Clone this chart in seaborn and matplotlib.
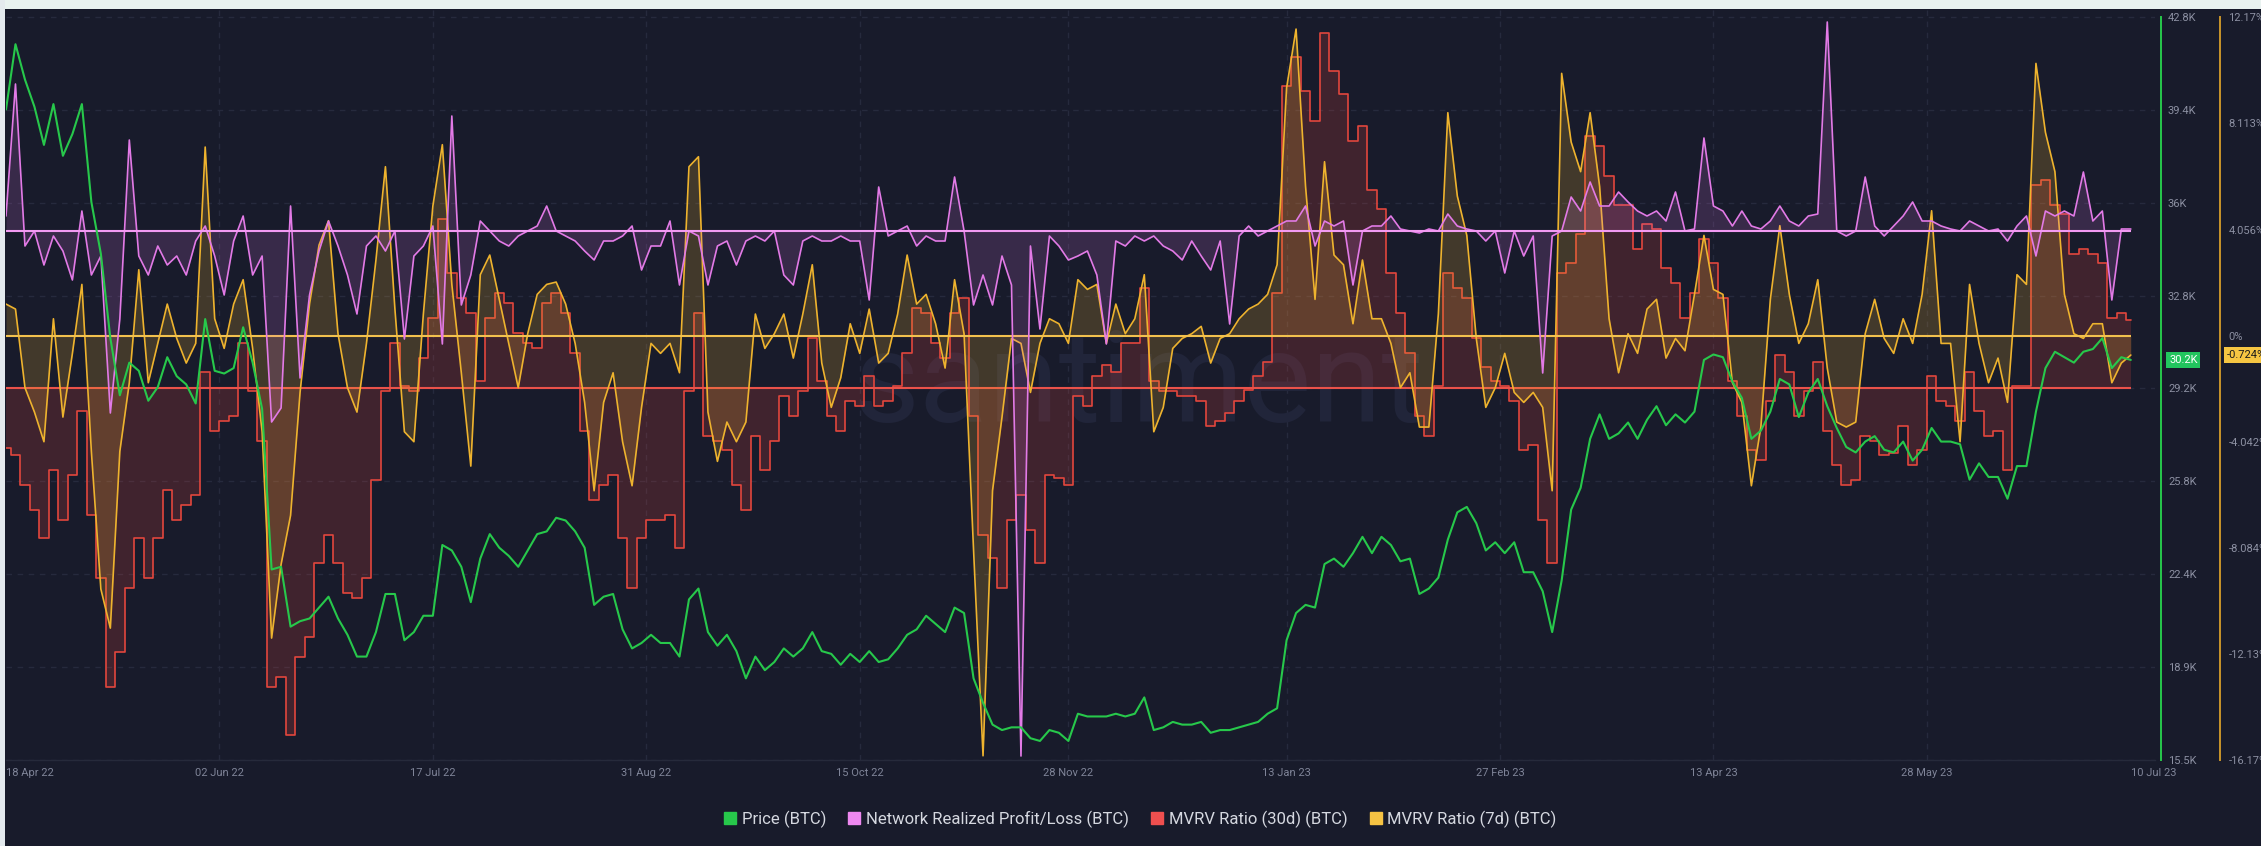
import numpy as np
import pandas as pd
import matplotlib
matplotlib.use("Agg")
import matplotlib.pyplot as plt
import matplotlib.transforms as mtransforms
from matplotlib.lines import Line2D
from matplotlib.patches import Rectangle
import seaborn as sns

# ---------------- data (every 2nd day, 18 Apr 2022 .. 10 Jul 2023) ----------------
price_k = [
    39.4, 41.8, 40.5, 39.5, 38.1, 39.6, 37.7, 38.5,
    39.6, 36.0, 34.1, 31.0, 28.9, 30.1, 29.8, 28.7,
    29.2, 30.3, 29.6, 29.3, 28.6, 31.7, 29.8, 29.7,
    29.9, 31.4, 30.1, 28.4, 22.5, 22.6, 20.4, 20.6,
    20.7, 21.1, 21.5, 20.7, 20.1, 19.3, 19.3, 20.2,
    21.6, 21.6, 19.9, 20.2, 20.8, 20.8, 23.4, 23.2,
    22.6, 21.3, 22.9, 23.8, 23.3, 23.0, 22.6, 23.2,
    23.8, 23.9, 24.4, 24.3, 23.9, 23.3, 21.2, 21.5,
    21.6, 20.3, 19.6, 19.8, 20.1, 19.8, 19.8, 19.3,
    21.4, 21.8, 20.2, 19.7, 20.1, 19.5, 18.5, 19.3,
    18.8, 19.1, 19.6, 19.3, 19.6, 20.2, 19.5, 19.4,
    19.0, 19.4, 19.1, 19.5, 19.1, 19.2, 19.6, 20.1,
    20.3, 20.8, 20.5, 20.2, 21.1, 20.9, 18.5, 17.6,
    16.8, 16.6, 16.7, 16.7, 16.3, 16.2, 16.6, 16.5,
    16.2, 17.2, 17.1, 17.1, 17.1, 17.2, 17.1, 17.2,
    17.8, 16.6, 16.7, 16.9, 16.8, 16.8, 16.9, 16.5,
    16.6, 16.6, 16.7, 16.8, 16.9, 17.2, 17.4, 19.9,
    20.9, 21.2, 21.1, 22.7, 22.9, 22.6, 23.1, 23.7,
    23.1, 23.7, 23.4, 22.8, 22.9, 21.6, 21.8, 22.2,
    23.6, 24.6, 24.8, 24.2, 23.2, 23.5, 23.1, 23.5,
    22.4, 22.4, 21.7, 20.2, 22.1, 24.7, 25.5, 27.3,
    28.2, 27.3, 27.5, 27.9, 27.3, 28.0, 28.5, 27.8,
    28.2, 27.9, 28.3, 30.2, 30.4, 30.3, 29.4, 28.8,
    27.3, 27.6, 28.3, 29.5, 29.3, 28.1, 29.0, 29.5,
    28.5, 27.7, 27.0, 26.8, 27.2, 27.4, 26.9, 26.8,
    27.2, 26.5, 26.9, 27.7, 27.2, 27.2, 27.1, 25.8,
    26.4, 25.9, 25.9, 25.1, 26.3, 26.3, 28.3, 29.9,
    30.5, 30.3, 30.1, 30.5, 30.6, 31.0, 29.9, 30.3,
    30.2,
]

npl = [
    0.15, 1.47, -0.15, 0.0, -0.34, -0.05, -0.20, -0.49,
    0.20, -0.44, -0.25, -1.82, -0.88, 0.91, -0.25, -0.44,
    -0.15, -0.34, -0.25, -0.44, -0.10, 0.05, -0.25, -0.64,
    -0.10, 0.15, -0.44, -0.25, -1.91, -1.77, 0.25, -1.47,
    -0.64, -0.20, 0.10, -0.15, -0.44, -0.83, -0.15, -0.05,
    -0.20, 0.0, -1.08, -0.25, -0.15, 0.05, -1.13, 1.15,
    -0.74, -0.44, 0.10, 0.0, -0.10, -0.15, -0.05, 0.0,
    0.05, 0.25, 0.0, -0.05, -0.10, -0.20, -0.29, -0.10,
    -0.10, -0.05, 0.05, -0.39, -0.15, -0.15, 0.10, -0.54,
    0.0, -0.05, -0.54, -0.15, -0.10, -0.34, -0.10, -0.05,
    -0.10, 0.0, -0.44, -0.54, -0.10, -0.05, -0.10, -0.10,
    -0.05, -0.10, -0.10, -0.69, 0.44, -0.05, 0.0, 0.05,
    -0.15, -0.05, -0.10, -0.10, 0.54, 0.0, -0.74, -0.44,
    -0.74, -0.25, -0.54, -5.25, -0.15, -0.98, -0.05, -0.15,
    -0.29, -0.25, -0.20, -0.44, -1.13, -0.10, -0.15, -0.05,
    -0.10, -0.05, -0.15, -0.20, -0.29, -0.10, -0.25, -0.39,
    -0.10, -0.93, -0.05, 0.05, -0.05, 0.0, 0.05, 0.10,
    0.10, 0.25, -0.15, 0.10, 0.05, 0.10, -0.54, 0.0,
    0.05, 0.05, 0.15, 0.02, 0.0, -0.02, 0.02, 0.0,
    0.17, 0.05, 0.02, 0.0, -0.10, 0.0, -0.42, 0.0,
    -0.25, -0.05, -1.42, -0.05, 0.0, 0.34, 0.20, 0.49,
    0.25, 0.25, 0.39, 0.29, 0.20, 0.15, 0.20, 0.10,
    0.39, 0.0, 0.02, 0.93, 0.25, 0.20, 0.05, 0.20,
    0.05, 0.02, 0.10, 0.25, 0.10, 0.05, 0.15, 0.17,
    2.09, 0.0, -0.05, 0.0, 0.54, 0.05, -0.05, 0.05,
    0.15, 0.29, 0.10, 0.10, 0.05, 0.02, 0.0, 0.10,
    0.05, 0.0, 0.02, -0.10, 0.05, 0.15, -0.25, 0.20,
    0.15, 0.20, 0.15, 0.59, 0.10, 0.20, -0.69, 0.02,
    0.02,
]

mvrv30 = [
    -4.8, -5.4, -7.8, -9.8, -12.1, -6.6, -10.6, -7.0,
    -1.8, -10.2, -15.3, -24.1, -21.3, -16.1, -12.1, -15.3,
    -12.1, -8.2, -10.6, -9.4, -8.6, 1.3, -3.4, -2.6,
    -2.2, 3.7, -0.2, -4.2, -24.1, -23.3, -28.0, -21.7,
    -20.1, -14.1, -11.8, -14.1, -16.5, -16.9, -15.3, -7.4,
    -0.2, 3.7, 0.2, -0.2, 2.5, 5.7, 13.7, 9.3,
    7.3, 6.1, 0.6, 5.7, 7.7, 6.9, 4.5, 3.7,
    3.3, 6.9, 7.7, 6.1, 2.9, -3.4, -9.0, -7.8,
    -7.0, -12.1, -16.1, -12.1, -10.6, -10.6, -10.2, -12.9,
    -0.2, 6.1, -3.8, -4.2, -5.0, -7.8, -9.8, -3.8,
    -6.6, -4.2, -0.6, -2.2, -0.2, 4.1, 0.6, -2.2,
    -3.4, -1.0, -1.4, 1.0, -1.4, -1.0, 0.2, 2.9,
    6.5, 6.1, 3.7, 2.5, 6.1, 7.3, -2.2, -11.8,
    -13.7, -16.1, -10.6, -8.6, -11.4, -14.1, -7.0, -7.2,
    -7.8, -0.6, -1.4, 1.0, 1.9, 1.3, 3.7, 3.7,
    8.1, 0.6, -0.2, -0.2, -0.6, -0.6, -1.0, -3.0,
    -2.6, -2.0, -1.0, -0.1, 1.0, 2.1, 7.7, 24.4,
    26.8, 24.0, 21.6, 28.7, 25.6, 23.8, 20.0, 21.2,
    16.0, 14.5, 9.3, 6.1, 2.9, -2.2, -3.8, 0.2,
    9.3, 8.1, 7.3, 4.1, 1.7, 0.6, 0.2, -1.0,
    -5.0, -4.6, -10.6, -14.1, 9.3, 10.1, 12.5, 20.4,
    19.6, 17.2, 14.8, 14.8, 11.3, 13.3, 12.9, 9.7,
    8.5, 5.7, 7.7, 12.1, 10.1, 7.3, 0.6, -2.2,
    -5.0, -5.8, -1.0, 2.7, 1.3, -2.2, -0.2, 2.1,
    -3.4, -6.2, -7.8, -7.4, -3.8, -4.2, -5.4, -5.2,
    -3.0, -6.2, -5.0, 1.0, -1.0, -1.4, -2.6, 1.3,
    -1.8, -3.8, -3.4, -6.6, 0.2, 0.2, 16.4, 16.8,
    14.8, 14.1, 10.9, 11.3, 10.9, 10.1, 5.7, 6.1,
    5.5,
]

mvrv7 = [
    1.22, 1.03, -1.97, -2.90, -4.03, 0.66, -3.09, -0.66,
    1.97, -4.40, -9.65, -11.14, -4.40, -1.78, 2.53, -1.78,
    -0.28, 1.22, -0.09, -1.03, -0.28, 7.21, 0.66, -0.47,
    1.22, 2.15, -0.47, -3.65, -11.52, -8.71, -6.84, -2.15,
    1.22, 3.47, 4.40, 0.09, -1.97, -2.90, -0.28, 2.90,
    6.46, 1.03, -3.65, -4.03, 0.84, 4.96, 7.30, 1.97,
    -1.40, -4.96, 2.34, 3.09, 1.40, -0.28, -1.97, 0.09,
    1.59, 1.97, 2.06, 1.22, -0.28, -2.53, -5.90, -2.53,
    -1.40, -4.03, -5.71, -2.72, -0.28, -0.66, -0.28, -1.40,
    6.46, 6.84, -2.90, -4.78, -3.28, -4.03, -3.28, 0.84,
    -0.47, 0.09, 0.84, -0.84, 0.84, 2.72, -1.03, -2.72,
    -1.59, 0.47, -0.66, 1.03, -1.03, -0.66, 0.84, 3.09,
    1.22, 1.59, 0.47, -1.22, 2.15, 0.09, -8.15, -16.01,
    -5.90, -3.09, -0.09, -0.28, -2.15, -0.28, 0.66, 0.47,
    -0.28, 2.15, 1.78, 1.97, -0.28, 1.22, 0.09, 0.66,
    2.34, -3.65, -2.72, -0.47, -0.09, 0.09, 0.37, -1.03,
    -0.09, 0.09, 0.66, 1.03, 1.22, 1.59, 2.72, 9.46,
    11.71, 5.71, 1.40, 6.65, 3.09, 2.72, 0.47, 2.90,
    0.66, 0.66, -0.28, -1.97, -1.40, -3.47, -3.47, 0.84,
    8.52, 5.34, 3.84, -0.09, -2.72, -1.97, -0.66, -2.15,
    -2.53, -2.15, -2.72, -5.90, 10.02, 7.40, 6.27, 8.52,
    5.71, 0.66, -1.40, 0.09, -0.66, 1.03, 1.40, -0.84,
    -0.09, -0.56, 1.59, 3.84, 1.78, 1.59, -1.78, -2.53,
    -5.71, -3.47, 1.40, 4.21, 1.59, -0.28, 0.47, 2.15,
    -1.22, -3.28, -3.47, -3.28, 0.09, 1.40, -0.09, -0.66,
    0.66, -0.28, 1.59, 4.78, -0.28, -0.28, -4.03, 1.97,
    -0.28, -1.78, -0.84, -2.53, 2.34, 1.97, 10.40, 7.77,
    6.27, 1.59, 0.09, -0.09, 0.47, 0.47, -1.78, -1.03,
    -0.724,
]

assert len(price_k) == len(npl) == len(mvrv30) == len(mvrv7) == 225

price_tick_labels = ["15.5K", "18.9K", "22.4K", "25.8K", "29.2K", "32.8K", "36K", "39.4K", "42.8K"]
mvrv_ticks = [-16.17, -12.13, -8.084, -4.042, 0, 4.056, 8.113, 12.17]
mvrv_tick_labels = ["-16.17%", "-12.13%", "-8.084%", "-4.042%", "0%", "4.056%", "8.113%", "12.17%"]
date_ticks = ["2022-04-18", "2022-06-02", "2022-07-17", "2022-08-31", "2022-10-15",
              "2022-11-28", "2023-01-13", "2023-02-27", "2023-04-13", "2023-05-28", "2023-07-10"]
date_tick_labels = ["18 Apr 22", "02 Jun 22", "17 Jul 22", "31 Aug 22", "15 Oct 22",
                    "28 Nov 22", "13 Jan 23", "27 Feb 23", "13 Apr 23", "28 May 23", "10 Jul 23"]
series_names = ["Price (BTC)", "Network Realized Profit/Loss (BTC)",
                "MVRV Ratio (30d) (BTC)", "MVRV Ratio (7d) (BTC)"]

dates = pd.date_range("2022-04-18", periods=len(price_k), freq="2D")
df = pd.DataFrame({"date": dates, "price": price_k, "npl": npl,
                   "mvrv30": mvrv30, "mvrv7": mvrv7})

# ---------------- style ----------------
BG = "#181b2b"
GREEN = "#27c84b"
PINK = "#e27ae6"
RED = "#e2463d"
AMBER = "#eeb32e"
GRID = "#262a3d"
TXT = "#7f8498"

sns.set_theme(style="dark", rc={"axes.facecolor": BG, "figure.facecolor": BG})
plt.rcParams["font.family"] = ["Roboto", "DejaVu Sans"]

W, H = 2261, 846
fig = plt.figure(figsize=(W / 100, H / 100), dpi=100, facecolor=BG)

L, R, T, B = 6, 2155, 10, 760
rect = [L / W, 1 - B / H, (R - L) / W, (B - T) / H]
ax30 = fig.add_axes(rect)
ax30.set_facecolor("none")
ax7 = ax30.twinx()
axn = ax30.twinx()
axp = ax30.twinx()

x0 = dates[0]
x1 = dates[0] + pd.Timedelta(days=453.1)

ylim_p = (15.5, 43.057)
ylim_7 = (-16.17, 12.437)
ylim_30 = (-30.0, 30.565)
ylim_n = (-5.29, 2.21)

# grid (drawn on the bottom axes)
for p in np.linspace(15.5, 42.8, 9):
    f = (p - ylim_p[0]) / (ylim_p[1] - ylim_p[0])
    ax30.plot([0, 1], [f, f], transform=ax30.transAxes, color=GRID, lw=1,
              dashes=(4, 4), zorder=0.5)
for d in pd.to_datetime(date_ticks[1:-1]):
    ax30.axvline(d, color=GRID, lw=1, dashes=(4, 4), zorder=0.5)

# watermark
ax30.text(1138 / W, 1 - 422 / H, "santiment", transform=fig.transFigure,
          ha="center", va="baseline", fontsize=92, color="#21253a", zorder=0.6)

# MVRV 30d
ax30.fill_between(df["date"], df["mvrv30"], 0, step="mid", color=RED, alpha=0.2, lw=0, zorder=1)
sns.lineplot(data=df, x="date", y="mvrv30", ax=ax30, color=RED, lw=1.2,
             drawstyle="steps-mid", legend=False, zorder=2)
ax30.hlines(0, dates[0], dates[-1], color="#ea524a", lw=1.5, zorder=2.5)

# MVRV 7d
ax7.fill_between(df["date"], df["mvrv7"], 0, color=AMBER, alpha=0.2, lw=0, zorder=1)
sns.lineplot(data=df, x="date", y="mvrv7", ax=ax7, color=AMBER, lw=1.2,
             legend=False, zorder=2)
ax7.hlines(0, dates[0], dates[-1], color="#f2c14e", lw=1.5, zorder=2.5)

# NPL
axn.fill_between(df["date"], df["npl"], 0, color=PINK, alpha=0.16, lw=0, zorder=1)
sns.lineplot(data=df, x="date", y="npl", ax=axn, color=PINK, lw=1.2, legend=False, zorder=2)
axn.hlines(0, dates[0], dates[-1], color="#f29af2", lw=1.5, zorder=2.5)

# price
sns.lineplot(data=df, x="date", y="price", ax=axp, color=GREEN, lw=1.5, legend=False, zorder=3)

for a, yl in ((ax30, ylim_30), (ax7, ylim_7), (axn, ylim_n), (axp, ylim_p)):
    a.set_xlim(x0, x1)
    a.set_ylim(*yl)
    a.set_xlabel("")
    a.set_ylabel("")
    a.grid(False)
    for s in a.spines.values():
        s.set_visible(False)

# bottom axis
ax30.spines["bottom"].set_visible(True)
ax30.spines["bottom"].set_color("#262a3b")
ax30.spines["bottom"].set_linewidth(1)
ax30.tick_params(axis="y", left=False, labelleft=False, right=False, labelright=False)
ax30.set_xticks(pd.to_datetime(date_ticks))
ax30.set_xticklabels(date_tick_labels)
ax30.tick_params(axis="x", length=0, pad=6, labelsize=8, labelcolor=TXT)
xl = ax30.get_xticklabels()
xl[0].set_ha("left")
xl[-1].set_ha("left")

axn.tick_params(axis="y", left=False, right=False, labelleft=False, labelright=False)

# price axis (green)
px = 72 / 100
axp.spines["right"].set_visible(True)
axp.spines["right"].set_position(("outward", 6 * px))
axp.spines["right"].set_bounds(15.5, 42.8)
axp.spines["right"].set_color(GREEN)
axp.spines["right"].set_linewidth(1.4)
axp.set_yticks(np.linspace(15.5, 42.8, 9))
axp.set_yticklabels(price_tick_labels)
axp.tick_params(axis="y", length=0, pad=5, labelsize=8, labelcolor="#8c90a2")

# MVRV axis (amber)
ax7.spines["right"].set_visible(True)
ax7.spines["right"].set_position(("outward", 65 * px))
ax7.spines["right"].set_bounds(-16.17, 12.17)
ax7.spines["right"].set_color("#c9952a")
ax7.spines["right"].set_linewidth(1.4)
ax7.set_yticks(mvrv_ticks)
ax7.set_yticklabels(mvrv_tick_labels)
ax7.tick_params(axis="y", length=0, pad=6, labelsize=8, labelcolor="#8c90a2")

# current value badges
trp = mtransforms.blended_transform_factory(fig.transFigure, axp.transData)
axp.text(2169 / W, price_k[-1], f"{price_k[-1]:.1f}K", transform=trp, ha="left", va="center",
         fontsize=8, color="white", zorder=10, clip_on=False,
         bbox=dict(boxstyle="square,pad=0.25", fc="#22c55e", ec="none"))
tr7 = mtransforms.blended_transform_factory(fig.transFigure, ax7.transData)
ax7.text(2227 / W, mvrv7[-1], f"{mvrv7[-1]:.3f}%", transform=tr7, ha="left", va="center",
         fontsize=8, color="#1b1b1b", zorder=10, clip_on=False,
         bbox=dict(boxstyle="square,pad=0.25", fc="#f5c542", ec="none"))

# legend
handles = [Line2D([], [], marker="s", ls="none", color=c, markersize=8)
           for c in (GREEN, "#ee88f0", "#ef4f4f", "#f6c343")]
fig.legend(handles, series_names, loc="center", bbox_to_anchor=(1140 / W, 1 - 819 / H),
           ncol=4, frameon=False, fontsize=12, labelcolor="#d5d8e0",
           handletextpad=0.3, columnspacing=1.3, handlelength=0.8)

# page strips (light background of host page)
fig.add_artist(Rectangle((0, 1 - 9 / H), 1, 9 / H, transform=fig.transFigure,
                         color="#e9f2f0", zorder=20, lw=0))
fig.add_artist(Rectangle((0, 0), 5 / W, 1, transform=fig.transFigure,
                         color="#e4eaee", zorder=20, lw=0))

fig.savefig("out.png", dpi=100, facecolor=BG)
